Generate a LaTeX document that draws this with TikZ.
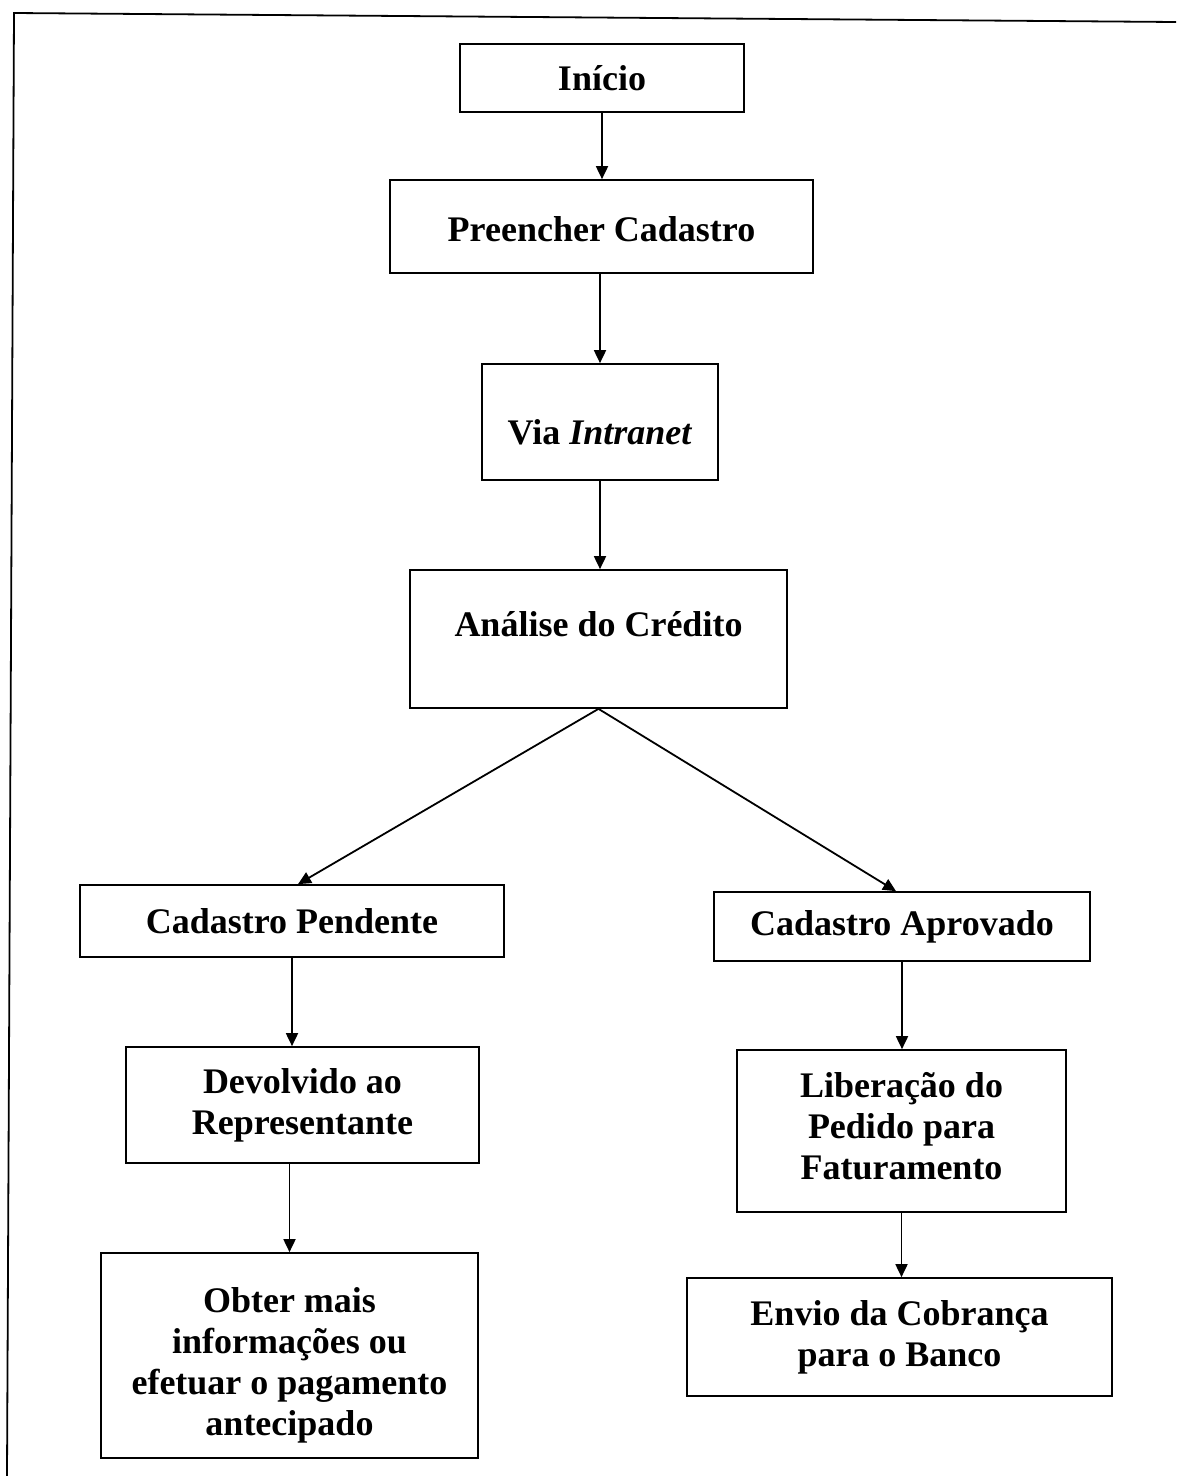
\documentclass[tikz,border=0pt]{standalone}
\usepackage{fontspec}
\setmainfont{Liberation Serif}
\usetikzlibrary{positioning, arrows.meta}

\begin{document}
\begin{tikzpicture}[x=1pt, y=-1pt,
            box/.style={rectangle, draw, line width=1.7pt, inner sep=0pt, align=center, font=\fontsize{36}{41}\selectfont\bfseries},
            seta/.style={draw, line width=1.8pt, -{Triangle[length=13pt, width=12pt]}},
            moldura/.style={draw, line width=1.8pt}
        ]
            \useasboundingbox (0,0) rectangle (1176,1476);

            % --- moldura ---
            \draw[moldura] (7,1476) -- (14,13) -- (1176,22);

            % --- caixas ---
            \node[box, minimum width=284, minimum height=68] (ini) at (602,78) {Início};
            \node[box, minimum width=423, minimum height=93, text height=31pt] (cad) at (601.5,226.5) {Preencher Cadastro};
            \node[box, minimum width=236, minimum height=116, text height=45pt] (intra) at (600,422) {Via \textit{Intranet}};
            \node[box, minimum width=377, minimum height=138, text depth=30pt] (anal) at (598.5,639) {Análise do Crédito};

            \node[box, minimum width=424, minimum height=72] (pend) at (292,921) {Cadastro Pendente};
            \node[box, minimum width=376, minimum height=69] (aprov) at (902,926.5) {Cadastro Aprovado};

            \node[box, minimum width=353, minimum height=116] (devol) at (302.5,1105) {Devolvido ao\\Representante};
            \node[box, minimum width=329, minimum height=162] (liber) at (901.5,1131) {Liberação do\\Pedido para\\Faturamento\rule[-10pt]{0pt}{0pt}};

            \node[box, minimum width=377, minimum height=205] (obter) at (289.5,1355.5) {\rule{0pt}{45pt}Obter mais\\informações ou\\efetuar o pagamento\\antecipado};
            \node[box, minimum width=425, minimum height=118] (envio) at (899.5,1337) {Envio da Cobrança\\para o Banco};

            % --- ligações ---
            \draw[seta] (ini.south) -- (ini.south |- cad.north);
            \draw[seta] (intra.north |- cad.south) -- (intra.north);
            \draw[seta] (intra.south) -- (intra.south |- anal.north);

            \draw[seta] (anal.south) -- ([xshift=6pt]pend.north);
            \draw[seta] (anal.south) -- ([xshift=-6pt]aprov.north);

            \draw[seta] (pend.south) -- (pend.south |- devol.north);
            \draw[seta] (devol.south -| obter.north) -- (obter.north);
            \draw[seta] (aprov.south) -- (aprov.south |- liber.north);
            \draw[seta] (liber.south) -- (liber.south |- envio.north);
        \end{tikzpicture}
\end{document}
